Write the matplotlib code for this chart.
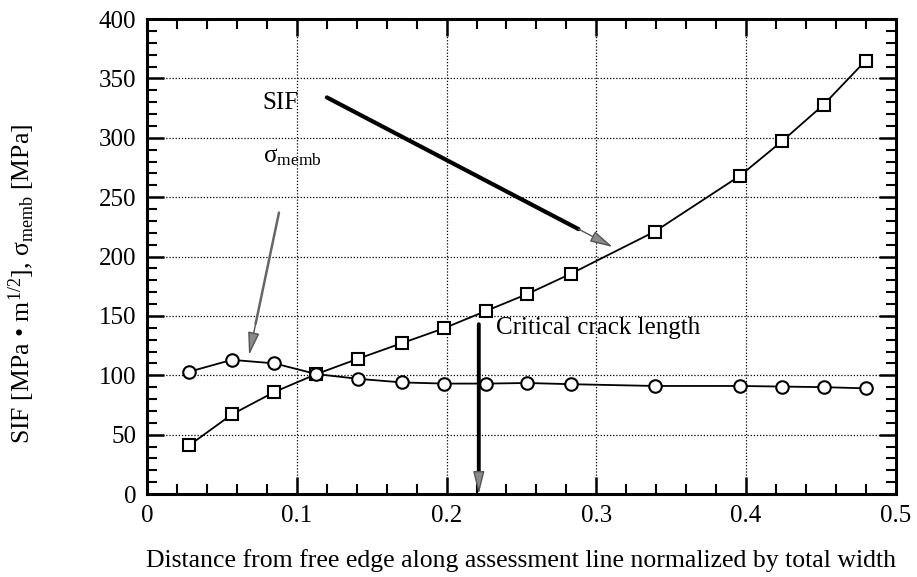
import matplotlib
matplotlib.use("Agg")
import matplotlib.pyplot as plt
from matplotlib.ticker import MultipleLocator

# ---- data ----
x_norm = [0.028, 0.0565, 0.085, 0.113, 0.141, 0.170, 0.198, 0.226, 0.254,
          0.283, 0.339, 0.396, 0.424, 0.452, 0.480]
sif = [41, 67, 86, 101, 114, 127, 139.5, 154, 168.5, 185.5, 221, 268, 297, 328, 365]
sigma_memb = [103, 113, 110, 101, 97, 94, 93, 93, 93.5, 92.5, 91, 91, 90.5, 90, 89]

x_ticks = [0, 0.1, 0.2, 0.3, 0.4, 0.5]
x_ticklabels = ["0", "0.1", "0.2", "0.3", "0.4", "0.5"]
y_ticks = [0, 50, 100, 150, 200, 250, 300, 350, 400]

# annotation anchors (data coords)
sif_text = (0.077, 329)
sif_arrow_from = (0.120, 334)
sif_arrow_to = (0.311, 208)
sig_text = (0.077, 284)
sig_arrow_from = (0.088, 237)
sig_arrow_to = (0.068, 117)
crit_text = (0.233, 140)
crit_x = 0.2215
crit_top = 143

plt.rcParams['font.family'] = ['Liberation Serif', 'DejaVu Serif']
plt.rcParams['mathtext.fontset'] = 'custom'
plt.rcParams['mathtext.rm'] = 'Liberation Serif'
plt.rcParams['mathtext.it'] = 'Liberation Serif:italic'

fig = plt.figure(figsize=(9.17, 5.77), dpi=100)
ax = fig.add_axes([0.1606, 0.1438, 0.8161, 0.8232])

ax.grid(True, which='major', linestyle=(0, (1, 1.5)), color='black', linewidth=0.9)
ax.set_axisbelow(True)

ax.plot(x_norm, sif, color='black', lw=1.3, marker='s', ms=9, mfc='white',
        mec='black', mew=1.5, zorder=3)
ax.plot(x_norm, sigma_memb, color='black', lw=1.3, marker='o', ms=9, mfc='white',
        mec='black', mew=1.5, zorder=3)

ax.set_xlim(0, 0.5)
ax.set_ylim(0, 400)
ax.set_xticks(x_ticks)
ax.set_xticklabels(x_ticklabels)
ax.set_yticks(y_ticks)
ax.xaxis.set_minor_locator(MultipleLocator(0.02))
ax.yaxis.set_minor_locator(MultipleLocator(10))
ax.tick_params(which='both', direction='in', top=True, right=True, labelsize=18,
               width=1.8, colors='black')
ax.tick_params(which='major', length=12, pad=8)
ax.tick_params(which='minor', length=7, width=1.5)
for s in ax.spines.values():
    s.set_linewidth(2.2)

ax.set_xlabel("Distance from free edge along assessment line normalized by total width",
              fontsize=18.5)
ax.xaxis.set_label_coords(0.5, -0.115)
ax.set_ylabel("SIF [MPa • m$^{1/2}$], σ$_{\\mathrm{memb}}$ [MPa]", fontsize=18.5)
ax.yaxis.set_label_coords(-0.148, 0.442)


def arrow(p0, p1, shaft_color, shaft_lw, head_frac=0.13):
    hb = (p1[0] - (p1[0] - p0[0]) * head_frac, p1[1] - (p1[1] - p0[1]) * head_frac)
    ax.annotate('', xy=hb, xytext=p0,
                arrowprops=dict(arrowstyle='-', color=shaft_color, lw=shaft_lw,
                                shrinkA=0, shrinkB=0), zorder=4)
    ax.annotate('', xy=p1, xytext=hb,
                arrowprops=dict(arrowstyle='-|>,head_length=1.4,head_width=0.35',
                                fc='#8a8a8a', ec='#555555', lw=1.0,
                                shrinkA=0, shrinkB=0), zorder=4)


ax.text(sif_text[0], sif_text[1], "SIF", fontsize=18, va='center', ha='left')
arrow(sif_arrow_from, sif_arrow_to, 'black', 3.0, head_frac=0.12)

ax.text(sig_text[0], sig_text[1], "σ$_{\\mathrm{memb}}$", fontsize=18,
        va='center', ha='left')
arrow(sig_arrow_from, sig_arrow_to, '#666666', 1.8, head_frac=0.22)

ax.text(crit_text[0], crit_text[1], "Critical crack length", fontsize=18,
        va='center', ha='left')
arrow((crit_x, crit_top), (crit_x, 0), 'black', 2.8, head_frac=0.12)

fig.savefig("out.png", dpi=100)
